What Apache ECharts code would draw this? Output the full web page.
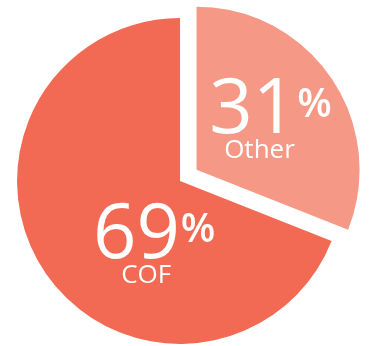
<!DOCTYPE html>
<html>
<head>
<meta charset="utf-8">
<style>
html,body{margin:0;padding:0;background:#fff;}
#main{width:372px;height:346px;}
</style>
<script src="https://cdn.jsdelivr.net/npm/echarts@6/dist/echarts.min.js"></script>
</head>
<body>
<div id="main"></div>
<script>
const categories = ['Other', 'COF'];
const values = [31, 69];
const colors = ['#F69886', '#F26A53'];

const chart = echarts.init(document.getElementById('main'), null, {renderer: 'canvas'});

// label nudges (pixels) relative to the default inside anchor
const valueShift = [[4, -11], [44, 8]];
const nameShift = [[-7, 28], [36, 47]];

function makeData(transparent) {
  return categories.map((c, i) => ({
    name: c,
    value: values[i],
    selected: i === 0,
    itemStyle: {color: transparent ? 'rgba(0,0,0,0)' : colors[i]}
  }));
}

const common = {
  type: 'pie',
  center: ['48.4%', '52.3%'],
  radius: [0, 163],
  startAngle: 90,
  clockwise: true,
  selectedMode: 'single',
  selectedOffset: 20,
  percentPrecision: 0,
  avoidLabelOverlap: false,
  silent: true,
  labelLine: {show: false},
  select: {itemStyle: {}},
  emphasis: {disabled: true}
};

chart.setOption({
  animation: false,
  series: [
    Object.assign({}, common, {
      name: 'values',
      data: makeData(false),
      label: {
        show: true,
        position: 'inside',
        formatter: '{v|{d}}{p|%}',
        rich: {
          v: {fontSize: 76, color: '#fff', fontFamily: 'Open Sans', lineHeight: 76},
          p: {fontSize: 40, color: '#fff', fontFamily: 'Open Sans', fontWeight: 600, verticalAlign: 'top', padding: [12, 0, 0, 1]}
        }
      },
      labelLayout: function (params) {
        const s = valueShift[params.dataIndex];
        return {dx: s[0], dy: s[1]};
      }
    }),
    Object.assign({}, common, {
      name: 'names',
      z: 3,
      data: makeData(true),
      label: {
        show: true,
        position: 'inside',
        formatter: '{b}',
        fontSize: 26,
        color: '#fff',
        fontFamily: 'Open Sans'
      },
      labelLayout: function (params) {
        const s = nameShift[params.dataIndex];
        return {dx: s[0], dy: s[1]};
      }
    })
  ]
});
</script>
</body>
</html>
